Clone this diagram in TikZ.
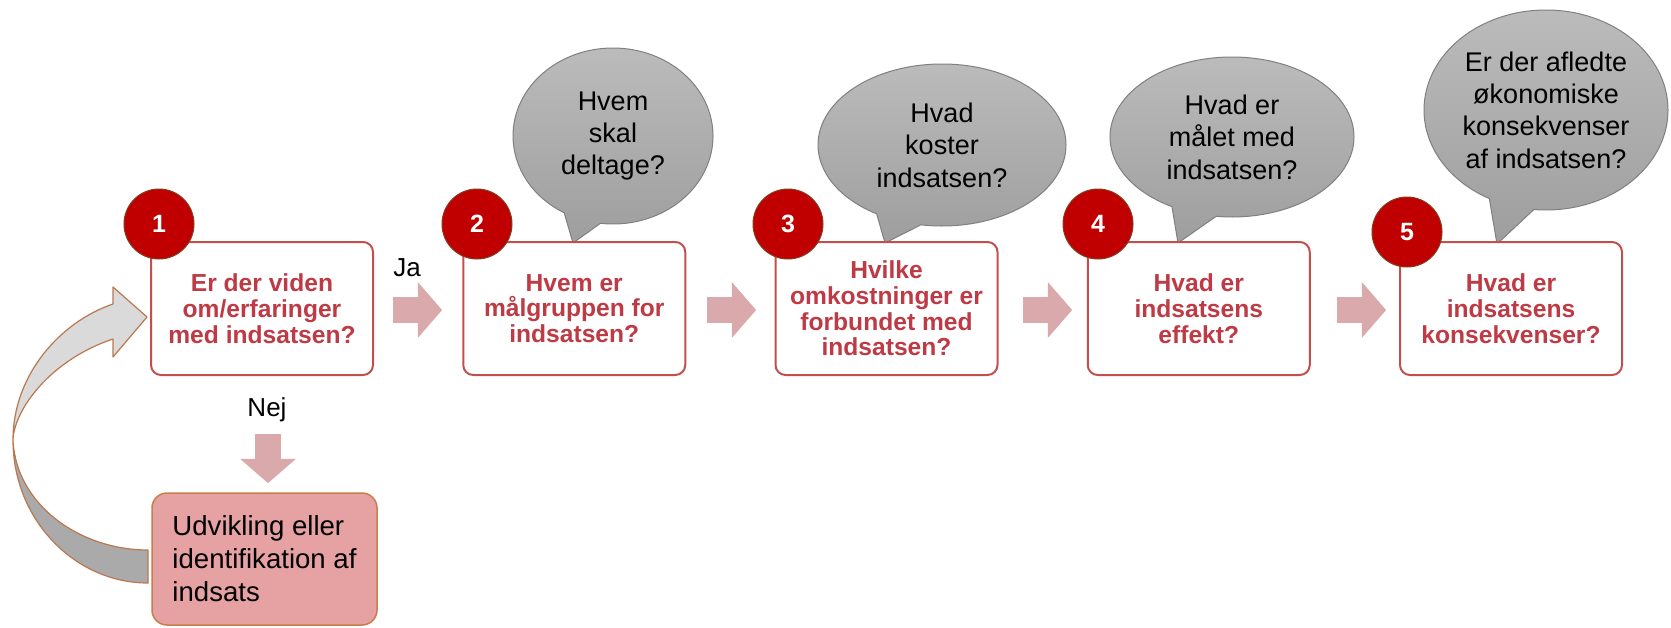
\documentclass[tikz,border=0pt]{standalone}
\usepackage{fontspec}
\setmainfont{Liberation Sans}
\usetikzlibrary{shapes.callouts,shapes.arrows,shapes.geometric}
\definecolor{boxborder}{RGB}{192,80,77}
\definecolor{boxtext}{RGB}{190,58,68}
\definecolor{numred}{RGB}{192,0,0}
\definecolor{numborder}{RGB}{130,60,30}
\definecolor{arrowpink}{RGB}{217,169,171}
\definecolor{devfill}{RGB}{230,161,163}
\definecolor{devborder}{RGB}{200,125,75}
\definecolor{bubtop}{RGB}{188,187,188}
\definecolor{bubbot}{RGB}{158,158,158}
\definecolor{bubborder}{RGB}{128,128,128}
\definecolor{curvelight}{RGB}{218,218,218}
\definecolor{curvedark}{RGB}{170,170,170}
\definecolor{curveborder}{RGB}{185,120,80}
\begin{document}
\begin{tikzpicture}[x=0.5pt,y=-0.5pt,
 qbox/.style={draw=boxborder, line width=1pt, rounded corners=5pt, fill=white, minimum width=111pt, minimum height=66.5pt, inner sep=0pt, align=center, text=boxtext, font=\fontsize{12.3}{12.9}\selectfont\bfseries},
 numcirc/.style={circle, fill=numred, draw=numborder, line width=0.5pt, minimum size=35pt, inner sep=0pt, text=white, font=\fontsize{12.5}{14}\selectfont\bfseries},
 bubble/.style={ellipse callout, draw=bubborder, line width=0.5pt, top color=bubtop, bottom color=bubbot, inner sep=0pt, align=center, font=\fontsize{13.5}{16.2}\selectfont, callout pointer arc=22},
 flowarrow/.style={single arrow, fill=arrowpink, inner sep=0pt, inner ysep=6.25pt, minimum height=24.5pt, minimum width=0pt, single arrow head extend=7.5pt, single arrow tip angle=98},
 lbl/.style={font=\fontsize{13}{15}\selectfont, inner sep=0pt},
 devbox/.style={draw=devborder, line width=0.75pt, fill=devfill, rounded corners=7.5pt, minimum width=112.5pt, minimum height=66pt, inner sep=0pt, align=left, font=\fontsize{13.8}{16.5}\selectfont},
 curvepart/.style={draw=curveborder, line width=0.6pt, line join=round}
]
\useasboundingbox (0,0) rectangle (1671,627);

% callout bubbles
\node[bubble, minimum width=100pt, minimum height=88pt, callout absolute pointer={(573,243)}] (q2) at (613,136) {Hvem\\skal\\deltage?};
\node[bubble, minimum width=124pt, minimum height=81pt, callout absolute pointer={(885,243)}] (q3) at (942,145) {Hvad\\koster\\indsatsen?};
\node[bubble, minimum width=122pt, minimum height=80pt, callout absolute pointer={(1178,243)}] (q4) at (1232,137) {Hvad er\\målet med\\indsatsen?};
\node[bubble, minimum width=122pt, minimum height=100pt, callout absolute pointer={(1497,244)}] (q5) at (1546,110) {Er der afledte\\økonomiske\\konsekvenser\\af indsatsen?};

% question boxes
\node[qbox] (b1) at (262,308.5) {Er der viden\\om/erfaringer\\med indsatsen?};
\node[qbox] (b2) at (574.25,308.5) {Hvem er\\målgruppen for\\indsatsen?};
\node[qbox] (b3) at (886.5,308.5) {Hvilke\\omkostninger er\\forbundet med\\indsatsen?};
\node[qbox] (b4) at (1198.75,308.5) {Hvad er\\indsatsens\\effekt?};
\node[qbox] (b5) at (1511,308.5) {Hvad er\\indsatsens\\konsekvenser?};

% number circles
\node[numcirc] (n1) at (159,224) {1};
\node[numcirc] (n2) at (477,224) {2};
\node[numcirc] (n3) at (788,224) {3};
\node[numcirc] (n4) at (1098,224) {4};
\node[numcirc] (n5) at (1407,232) {5};

% flow arrows
\node[flowarrow] (a1) at (412,310) {};
\node[flowarrow] (a2) at (726,310) {};
\node[flowarrow] (a3) at (1042,310) {};
\node[flowarrow] (a4) at (1356,310) {};
\node[lbl] (ja) at (407,268) {Ja};

\node[lbl] (nej) at (267,410) {Nej};
\node[flowarrow, rotate=-90] (anej) at (268,453) {};

% development box
\node[devbox] (dev) at (264.5,559) {Udvikling eller\\identifikation af\\indsats};

% curved return arrow
\path[curvepart, fill=curvedark] (13,440) .. controls (13,520) and (75,583) .. (148,583) -- (148,550) .. controls (80,550) and (16,505) .. (13,440) -- cycle;
\path[curvepart, fill=curvelight] (113,304) .. controls (60,322) and (13,375) .. (13,440) .. controls (14,410) and (50,360) .. (113,339) -- (113,357) -- (147,317) -- (113,287) -- cycle;
\end{tikzpicture}
\end{document}
